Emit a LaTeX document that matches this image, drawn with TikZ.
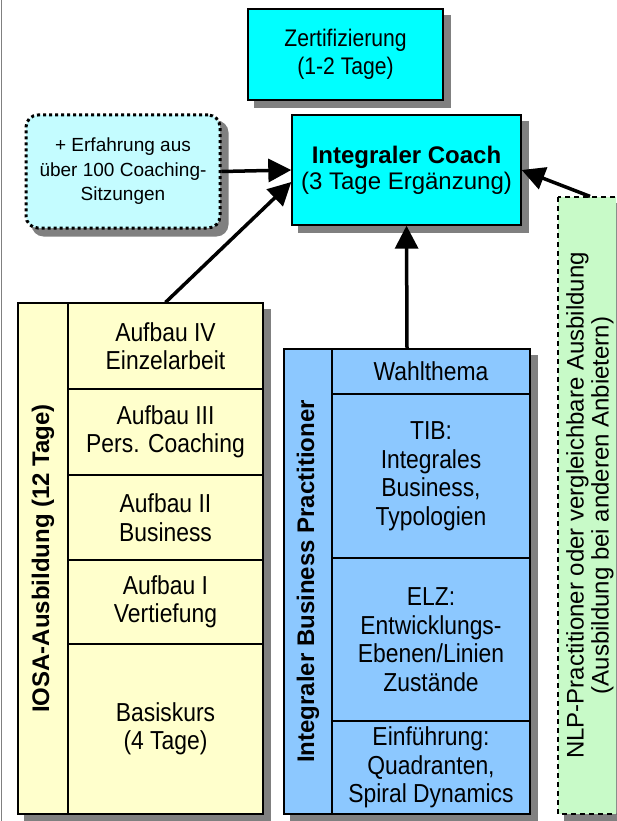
\documentclass[tikz,border=0pt]{standalone}
\usepackage{fontspec}
\setmainfont{Liberation Sans}
\newfontfamily\cellfont[FakeStretch=0.88]{Liberation Sans}
\usetikzlibrary{arrows.meta, backgrounds}

\definecolor{coachcyan}{RGB}{0,255,255}
\definecolor{paletcyan}{RGB}{196,252,255}
\definecolor{iosayellow}{RGB}{255,255,204}
\definecolor{ibpblue}{RGB}{140,200,255}
\definecolor{nlpgreen}{RGB}{200,250,200}
\definecolor{shadowgray}{RGB}{128,128,128}

\begin{document}
\begin{tikzpicture}[
    x=1pt, y=-1pt,
    >={Triangle[length=23pt, width=23pt]},
    every node/.style={draw, line width=1.2pt, inner sep=0pt, align=center,
        font=\cellfont\fontsize{26}{28.5}\selectfont},
    cell/.style 2 args={minimum width=#1pt, minimum height=#2pt},
    topbox/.style={fill=coachcyan, line width=1.4pt},
    title/.style={rotate=90, font=\fontsize{24}{25}\selectfont\bfseries},
    link/.style={->, line width=3.5pt}
]
\useasboundingbox (0,0) rectangle (616,821);
\clip (0,0) rectangle (616,821);

% Page edge
\draw[gray, line width=1.5pt] (1.5,0) -- (1.5,821);

% Top boxes
\node[topbox, cell={195}{91}, font=\cellfont\fontsize{24}{28}\selectfont] (zert) at (345.5,54.5) {Zertifizierung\\(1-2 Tage)};
\node[topbox, cell={229}{110}, font=\fontsize{24}{26}\selectfont] (coach) at (406.5,170) {\textbf{Integraler Coach}\\(3 Tage Ergänzung)};
\node[fill=paletcyan, cell={194}{113}, rounded corners=12pt, line width=3pt,
      dash pattern=on 3pt off 3pt, font=\fontsize{19}{24.5}\selectfont] (dots) at (123,171.5)
      {+ Erfahrung aus\\über 100 Coaching-\\Sitzungen};

% IOSA column
\node[fill=iosayellow, cell={245}{511}] (iosa) at (140.5,558.5) {};
\node[title, cell={511}{50}] (iosatitle) at (43,558.5) {IOSA-Ausbildung (12 Tage)};
\node[cell={195}{86}] (aufbau4) at (165.5,346) {Aufbau IV\\Einzelarbeit};
\node[cell={195}{86}] (aufbau3) at (165.5,432) {Aufbau III\\Pers. Coaching};
\node[cell={195}{85}] (aufbau2) at (165.5,517.5) {Aufbau II\\Business};
\node[cell={195}{84}] (aufbau1) at (165.5,602) {Aufbau I\\Vertiefung};
\node[cell={195}{170}] (basis) at (165.5,729) {Basiskurs\\(4 Tage)};

% Business Practitioner column
\node[fill=ibpblue, cell={246}{465}] (ibp) at (407,581.5) {};
\node[title, cell={465}{48}] (ibptitle) at (308,581.5) {Integraler Business Practitioner};
\node[cell={198}{45}] (wahl) at (431,371.5) {Wahlthema};
\node[cell={198}{164}] (tib) at (431,476) {TIB:\\Integrales\\Business,\\Typologien};
\node[cell={198}{163}] (elz) at (431,639.5) {ELZ:\\Entwicklungs-\\Ebenen/Linien\\Zustände};
\node[cell={198}{93}] (einf) at (431,767.5) {Einführung:\\Quadranten,\\Spiral Dynamics};

% NLP box
\node[fill=nlpgreen, rotate=90, cell={617}{64}, dash pattern=on 5pt off 4pt,
      font=\fontsize{24}{25}\selectfont] (nlp) at (590,505.5)
      {NLP-Practitioner oder vergleichbare Ausbildung\\(Ausbildung bei anderen Anbietern)};

% Shadows
\begin{scope}[on background layer]
\foreach \n in {zert, coach, iosa, ibp, nlp}
    \fill[shadowgray] ([shift={(7pt,-7pt)}]\n.south west) rectangle ([shift={(7pt,-7pt)}]\n.north east);
\fill[shadowgray, rounded corners=12pt] ([shift={(7pt,-7pt)}]dots.south west) rectangle ([shift={(7pt,-7pt)}]dots.north east);
\end{scope}

% Arrows
\draw[link] (dots.east) -- (coach.west);
\draw[link] (aufbau4.north) -- ([yshift=-12pt]coach.west);
\draw[link] (ibp.north) -- (coach.south);
\draw[link] (nlp.east) -- (coach.east);

\end{tikzpicture}
\end{document}
